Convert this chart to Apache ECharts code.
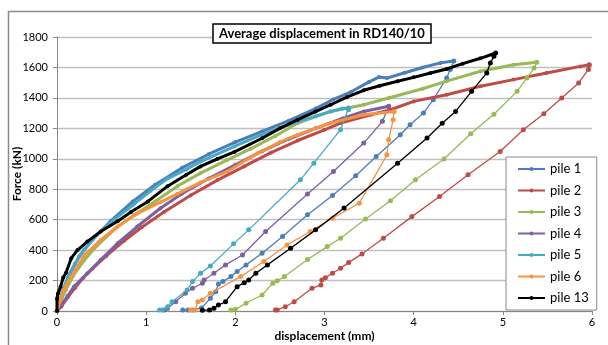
<!DOCTYPE html>
<html>
<head>
<meta charset="utf-8">
<script src="https://cdn.jsdelivr.net/npm/echarts@6/dist/echarts.min.js"></script>
<style>
  html, body { margin: 0; padding: 0; background: #fff; }
  #chart { width: 608px; height: 345px; }
</style>
</head>
<body>
<div id="chart"></div>
<script>
// pile test curves: [displacement (mm), force (kN)]
const pileNames = ["pile 1", "pile 2", "pile 3", "pile 4", "pile 5", "pile 6", "pile 13"];
const xTicks = [0, 1, 2, 3, 4, 5, 6];
const yTicks = [0, 200, 400, 600, 800, 1000, 1200, 1400, 1600, 1800];

const pile1Load = [[0,0],[0.03,60],[0.08,150],[0.15,250],[0.25,360],[0.4,470],[0.6,590],[0.85,720],[1.1,830],[1.4,940],[1.7,1030],[2.0,1110],[2.3,1180],[2.6,1250],[2.9,1330],[3.1,1390],[3.3,1440],[3.5,1505],[3.61,1537],[3.7,1530],[3.9,1565],[4.1,1600],[4.3,1630],[4.45,1642]];
const pile1Unload = [[4.45,1642],[4.41,1586],[4.37,1531],[4.22,1388],[4.11,1300],[3.96,1224],[3.85,1158],[3.58,1015],[3.35,888],[3.09,759],[2.81,632],[2.53,489],[2.30,379],[2.12,303],[2.02,259],[1.95,226],[1.86,193],[1.81,178],[1.78,127],[1.72,83],[1.62,20],[1.52,7],[1.47,7],[1.41,7]];

const pile2Load = [[0,0],[0.05,30],[0.12,90],[0.2,150],[0.29,215],[0.4,280],[0.55,360],[0.75,460],[0.95,550],[1.2,650],[1.5,760],[1.8,860],[2.1,950],[2.4,1040],[2.7,1120],[3.0,1190],[3.18,1235],[3.52,1289],[3.74,1322],[4.0,1377],[4.37,1421],[4.75,1476],[5.12,1520],[5.49,1564],[5.87,1607],[5.97,1618]];
const pile2Unload = [[5.97,1618],[5.96,1586],[5.85,1498],[5.66,1399],[5.46,1296],[5.23,1191],[4.97,1048],[4.61,895],[4.29,752],[3.98,620],[3.66,478],[3.42,375],[3.27,318],[3.18,281],[3.09,248],[3.01,219],[2.97,204],[2.96,171],[2.86,149],[2.66,61],[2.56,28],[2.47,7],[2.45,7]];

const pile3Load = [[0,0],[0.04,60],[0.1,140],[0.18,230],[0.3,330],[0.45,430],[0.65,540],[0.87,632],[1.1,720],[1.35,820],[1.61,906],[1.9,990],[2.17,1065],[2.45,1150],[2.70,1235],[3.07,1311],[3.44,1355],[3.72,1399],[4.1,1460],[4.37,1510],[4.75,1575],[5.12,1618],[5.38,1634]];
const pile3Unload = [[5.38,1634],[5.35,1596],[5.27,1531],[5.16,1443],[4.90,1292],[4.64,1164],[4.34,998],[4.02,862],[3.74,724],[3.46,605],[3.18,478],[3.03,423],[2.81,338],[2.55,226],[2.47,199],[2.42,182],[2.30,105],[2.12,51],[2.0,11],[1.95,7]];

const pile4Load = [[0,0],[0.05,40],[0.12,100],[0.19,160],[0.34,248],[0.49,336],[0.68,445],[0.90,555],[1.16,675],[1.4,770],[1.7,870],[2.0,960],[2.3,1050],[2.6,1130],[2.9,1200],[3.2,1265],[3.44,1311],[3.72,1345]];
const pile4Unload = [[3.72,1345],[3.65,1246],[3.44,1103],[3.10,917],[2.81,768],[2.34,522],[2.08,368],[1.89,303],[1.76,248],[1.65,204],[1.63,182],[1.52,149],[1.44,116],[1.33,61],[1.24,18],[1.20,7]];

const pile5Load = [[0,0],[0.02,50],[0.06,130],[0.12,220],[0.2,310],[0.3,400],[0.45,500],[0.64,600],[0.86,700],[1.05,790],[1.24,870],[1.45,930],[1.61,982],[1.99,1081],[2.3,1160],[2.6,1225],[2.9,1280],[3.07,1311],[3.2,1330],[3.27,1333]];
const pile5Unload = [[3.27,1333],[3.27,1322],[3.18,1191],[2.88,971],[2.73,862],[2.15,533],[1.98,441],[1.72,296],[1.61,248],[1.52,193],[1.46,138],[1.29,61],[1.24,28],[1.18,7],[1.15,7]];

const pile6Load = [[0,0],[0.03,60],[0.08,150],[0.16,226],[0.31,368],[0.49,467],[0.68,555],[0.9,640],[1.16,715],[1.35,770],[1.61,845],[1.91,917],[2.25,1037],[2.50,1110],[2.70,1158],[3.07,1235],[3.44,1289],[3.78,1311]];
const pile6Unload = [[3.78,1311],[3.77,1257],[3.72,1125],[3.70,1026],[3.39,708],[3.09,610],[2.84,522],[2.58,434],[2.32,325],[2.06,226],[1.72,116],[1.63,72],[1.58,61],[1.55,7],[1.50,7]];

const pile13Load = [[0,0],[0,80],[0.01,115],[0.04,160],[0.07,220],[0.1,250],[0.16,347],[0.23,400],[0.34,456],[0.49,522],[0.68,590],[0.83,650],[1.02,720],[1.24,820],[1.45,895],[1.61,950],[1.8,1000],[1.99,1045],[2.3,1135],[2.5,1200],[2.7,1257],[2.9,1310],[3.07,1355],[3.25,1405],[3.44,1450],[3.62,1480],[3.82,1509],[4.0,1535],[4.19,1564],[4.37,1590],[4.55,1625],[4.75,1660],[4.92,1695]];
const pile13Unload = [[4.92,1695],[4.90,1673],[4.86,1630],[4.82,1564],[4.65,1443],[4.47,1311],[4.32,1233],[4.15,1136],[3.82,971],[3.22,676],[2.90,533],[2.62,412],[2.36,303],[2.23,248],[2.15,204],[2.10,186],[2.02,160],[1.89,61],[1.81,39],[1.76,18],[1.71,7],[1.63,5]];

const pileColors = ["#4A7EBB", "#BE4B48", "#98B954", "#7D60A0", "#46AAC5", "#F69240", "#000000"];
const loads = [pile1Load, pile2Load, pile3Load, pile4Load, pile5Load, pile6Load, pile13Load];
const unloads = [pile1Unload, pile2Unload, pile3Unload, pile4Unload, pile5Unload, pile6Unload, pile13Unload];

const series = [];
pileNames.forEach(function (name, i) {
  // loading branch: dense points, drawn thick
  series.push({
    name: name,
    type: "line",
    data: loads[i],
    symbol: "circle",
    symbolSize: 4,
    lineStyle: { color: pileColors[i], width: 3 },
    itemStyle: { color: pileColors[i] },
    z: 2 + i
  });
  // unloading branch: thin line with markers
  series.push({
    name: name,
    type: "line",
    data: unloads[i],
    symbol: "circle",
    symbolSize: 5,
    lineStyle: { color: pileColors[i], width: 1.3 },
    itemStyle: { color: pileColors[i] },
    z: 2 + i
  });
});

const chart = echarts.init(document.getElementById("chart"));
chart.setOption({
  animation: false,
  textStyle: { fontFamily: "Lato" },
  graphic: [
    {
      type: "rect",
      shape: { x: 8.5, y: 11.5, width: 700, height: 400 },
      style: { fill: "none", stroke: "#8c8c8c", lineWidth: 1.5 },
      silent: true
    }
  ],
  title: {
    text: "Average displacement in RD140/10",
    left: 213,
    top: 24,
    padding: [3, 6, 3, 6],
    borderColor: "#000",
    borderWidth: 1.5,
    backgroundColor: "#fff",
    textStyle: { fontFamily: "Lato", fontSize: 13, fontWeight: "bold", color: "#000" },
    z: 20
  },
  grid: { left: 57, right: 16, top: 37, bottom: 34, outerBoundsMode: "none", containLabel: false },
  legend: {
    data: pileNames,
    orient: "vertical",
    left: 506,
    top: 157,
    padding: [5, 8, 5, 11],
    itemWidth: 27,
    itemHeight: 5,
    itemGap: 7.5,
    backgroundColor: "#fff",
    borderColor: "#888",
    borderWidth: 1,
    lineStyle: { width: 2 },
    textStyle: { fontFamily: "Lato", fontSize: 13, lineHeight: 14, color: "#000" },
    z: 20
  },
  xAxis: {
    type: "value",
    min: xTicks[0],
    max: xTicks[xTicks.length - 1],
    interval: 1,
    name: "displacement (mm)",
    nameLocation: "middle",
    nameGap: 19,
    nameMoveOverlap: false,
    nameTextStyle: { fontFamily: "Lato", fontSize: 12, fontWeight: "bold", color: "#000" },
    axisLine: { lineStyle: { color: "#868686", width: 1 } },
    axisTick: { show: true, length: 4, lineStyle: { color: "#868686" } },
    axisLabel: { fontSize: 11, color: "#000", margin: 6 },
    splitLine: { show: false }
  },
  yAxis: {
    type: "value",
    min: yTicks[0],
    max: yTicks[yTicks.length - 1],
    interval: 200,
    name: "Force (kN)",
    nameLocation: "middle",
    nameRotate: 90,
    nameGap: 34,
    nameMoveOverlap: false,
    nameTextStyle: { fontFamily: "Lato", fontSize: 12, fontWeight: "bold", color: "#000" },
    axisLine: { show: true, lineStyle: { color: "#868686", width: 1 } },
    axisTick: { show: true, length: 4, lineStyle: { color: "#868686" } },
    axisLabel: { fontSize: 11, color: "#000", margin: 9, formatter: function (v) { return String(v); } },
    splitLine: { show: true, lineStyle: { color: "#c0c0c0", width: 1.3 } }
  },
  series: series
});
</script>
</body>
</html>
